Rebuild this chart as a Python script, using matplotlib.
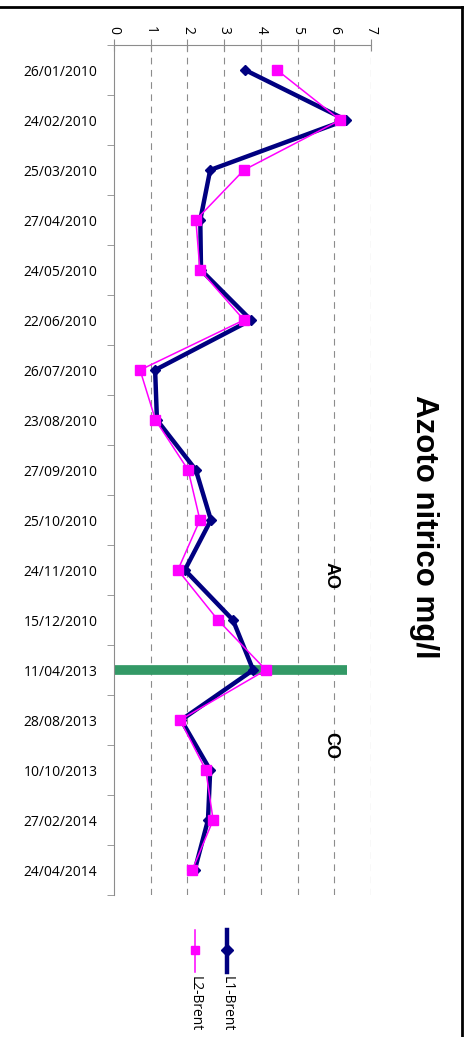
import numpy as np
import matplotlib
matplotlib.use("Agg")
import matplotlib.pyplot as plt
from matplotlib.lines import Line2D

dates = ["26/01/2010", "24/02/2010", "25/03/2010", "27/04/2010", "24/05/2010",
         "22/06/2010", "26/07/2010", "23/08/2010", "27/09/2010", "25/10/2010",
         "24/11/2010", "15/12/2010", "11/04/2013", "28/08/2013", "10/10/2013",
         "27/02/2014", "24/04/2014"]
l1_brent = [3.57, 6.32, 2.62, 2.35, 2.37, 3.73, 1.12, 1.17, 2.23, 2.64,
            1.93, 3.24, 3.79, 1.83, 2.62, 2.56, 2.20]
l2_brent = [4.44, 6.16, 3.54, 2.23, 2.34, 3.54, 0.71, 1.13, 2.02, 2.34,
            1.74, 2.83, 4.14, 1.80, 2.50, 2.70, 2.13]
series_names = ["L1-Brent", "L2-Brent"]
divider_date = "11/04/2013"
divider_value = 6.35
period_labels = ["AO", "CO"]
value_ticks = [0, 1, 2, 3, 4, 5, 6, 7]

W, H = 468, 1037
fig = plt.figure(figsize=(W / 100, H / 100), dpi=100)
plt.rcParams['font.family'] = ['Open Sans', 'DejaVu Sans']
bold_font = ['Liberation Sans', 'DejaVu Sans']

# plot area in pixels: x 114..371, y 45..895
ax = fig.add_axes([114 / W, 1 - 895 / H, (371 - 114) / W, (895 - 45) / H])
ypos = np.arange(len(dates))

ax.set_xlim(0, 7)
ax.set_ylim(len(dates) - 0.5, -0.5)

# vertical dashed grid
for v in value_ticks[1:]:
    ax.axvline(v, color="#8c8c8c", lw=0.8, ls=(0, (6, 5)), zorder=0)

# separator bar between the two periods
di = dates.index(divider_date)
ax.plot([0, divider_value], [di, di], color="#339966", lw=7,
        solid_capstyle="butt", zorder=1)

ax.plot(l1_brent, ypos, color="#000080", lw=3.2, marker="D", ms=5.5,
        zorder=3, label=series_names[0])
ax.plot(l2_brent, ypos, color="#ff00ff", lw=1.1, marker="s", ms=6.5,
        zorder=4, label=series_names[1])

# axes styling
for s in ["right", "bottom"]:
    ax.spines[s].set_visible(False)
ax.spines["left"].set_color("#8c8c8c")
ax.spines["top"].set_color("#8c8c8c")
ax.xaxis.tick_top()
ax.set_xticks(value_ticks)
ax.set_xticklabels([str(v) for v in value_ticks], rotation=-90, fontsize=10)
ax.tick_params(axis="x", which="major", length=8, direction="inout",
               color="#8c8c8c", pad=4)
ax.set_yticks(ypos)
ax.set_yticklabels(dates, fontsize=10)
ax.tick_params(axis="y", which="major", length=0, pad=12)
ax.set_yticks(np.arange(len(dates) + 1) - 0.5, minor=True)
ax.tick_params(axis="y", which="minor", length=5, color="#8c8c8c")

ax.text(5.9, 10.1, period_labels[0], rotation=-90, ha="center", va="center",
        fontsize=13, fontweight="bold", family=bold_font)
ax.text(5.9, 13.5, period_labels[1], rotation=-90, ha="center", va="center",
        fontsize=13, fontweight="bold", family=bold_font)

# title
fig.text(424 / W, 1 - 527 / H, "Azoto nitrico mg/l", rotation=-90,
         ha="center", va="center", fontsize=22.5, fontweight="bold",
         family=bold_font)

# legend, drawn rotated like the rest of the chart
leg = [(227, "#000080", 3.2, "D"), (195, "#ff00ff", 1.1, "s")]
for (xp, col, lw, mk), name in zip(leg, series_names):
    x = xp / W
    fig.add_artist(Line2D([x, x], [1 - 930 / H, 1 - 972 / H], color=col,
                          lw=lw, transform=fig.transFigure))
    fig.add_artist(Line2D([x], [1 - 950 / H], color=col, marker=mk, ms=6,
                          lw=0, transform=fig.transFigure))
    fig.text(x, 1 - 976 / H, name, rotation=-90, ha="center", va="top",
             fontsize=10)

# outer frame (top and right edges visible)
fig.add_artist(Line2D([0, 462 / W], [1 - 7 / H, 1 - 7 / H], color="black",
                      lw=2, transform=fig.transFigure))
fig.add_artist(Line2D([462 / W, 462 / W], [1 - 7 / H, 0], color="black",
                      lw=2, transform=fig.transFigure))

fig.savefig("out.png", dpi=100)
